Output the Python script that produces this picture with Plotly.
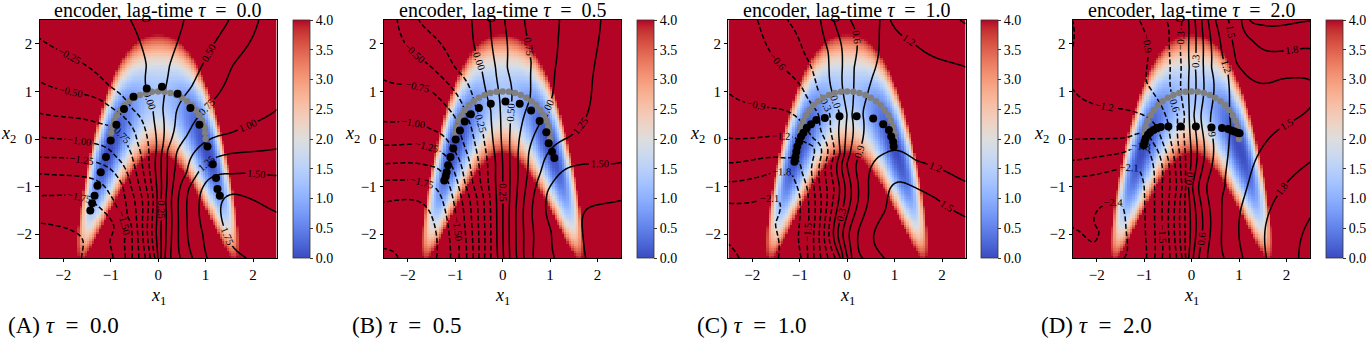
import numpy as np
import plotly.graph_objects as go

W, H = 1367, 338
SERIF = "Liberation Serif"

# ---------------- data ----------------
PANEL_TITLES = ["encoder, lag-time <i>τ</i>\u2002=\u20020.0", "encoder, lag-time <i>τ</i>\u2002=\u20020.5",
                "encoder, lag-time <i>τ</i>\u2002=\u20021.0", "encoder, lag-time <i>τ</i>\u2002=\u20022.0"]
CAPTIONS = ["(A) <i>τ</i>\u2002=\u20020.0", "(B) <i>τ</i>\u2002=\u20020.5",
            "(C) <i>τ</i>\u2002=\u20021.0", "(D) <i>τ</i>\u2002=\u20022.0"]
AXIS_TICKS = [-2, -1, 0, 1, 2]
AXIS_TICK_TEXT = ["−2", "−1", "0", "1", "2"]
CBAR_TICKS = [0.0, 0.5, 1.0, 1.5, 2.0, 2.5, 3.0, 3.5, 4.0]

# potential parameters (banana shaped landscape)
POT_C0, POT_B, POT_A0, POT_K, POT_H, POT_M2 = 0.95, 1.1, 1.75, 0.3, 1.3, 1.05

# grey reference points (arc)
GREY_X = [1.000, 0.991, 0.966, 0.924, 0.866, 0.793, 0.707, 0.609, 0.500, 0.383, 0.259, 0.131, 0.000,
          -0.131, -0.259, -0.383, -0.500, -0.609, -0.707, -0.793, -0.866, -0.924, -0.966, -0.991, -1.000]
GREY_Y = [0.000, 0.131, 0.259, 0.383, 0.500, 0.609, 0.707, 0.793, 0.866, 0.924, 0.966, 0.991, 1.000,
          0.991, 0.966, 0.924, 0.866, 0.793, 0.707, 0.609, 0.500, 0.383, 0.259, 0.131, 0.000]

# black (encoded/decoded) points per panel
A_BLACK_X = [-1.43, -1.39, -1.34, -1.28, -1.21, -1.10, -1.00, -0.88, -0.72, -0.52, -0.24, 0.08, 0.41, 0.68, 0.87, 1.04, 1.15, 1.22, 1.25, 1.30]
A_BLACK_Y = [-1.50, -1.35, -1.19, -0.98, -0.70, -0.38, -0.03, 0.30, 0.63, 0.89, 1.06, 1.10, 0.95, 0.65, 0.30, -0.16, -0.53, -0.82, -1.05, -1.19]
B_BLACK_X = [-1.23, -1.20, -1.18, -1.15, -1.10, -1.04, -0.99, -0.90, -0.80, -0.67, -0.50, -0.25, 0.06, 0.36, 0.60, 0.78, 0.92, 0.97, 1.04, 1.09]
B_BLACK_Y = [-0.87, -0.79, -0.70, -0.55, -0.38, -0.20, -0.01, 0.18, 0.37, 0.52, 0.65, 0.74, 0.79, 0.74, 0.60, 0.38, 0.14, -0.09, -0.27, -0.40]
C_BLACK_X = [-1.11, -1.09, -1.07, -1.05, -1.01, -0.97, -0.92, -0.85, -0.76, -0.65, -0.47, -0.16, 0.20, 0.55, 0.76, 0.88, 0.93, 0.97, 0.98]
C_BLACK_Y = [-0.48, -0.38, -0.27, -0.16, -0.06, 0.05, 0.13, 0.23, 0.31, 0.40, 0.44, 0.48, 0.48, 0.43, 0.31, 0.19, 0.05, -0.06, -0.16]
D_BLACK_X = [-1.01, -0.99, -0.97, -0.92, -0.87, -0.80, -0.73, -0.65, -0.49, -0.23, 0.09, 0.42, 0.64, 0.77, 0.84, 0.90, 0.97, 1.01]
D_BLACK_Y = [-0.13, -0.06, 0.01, 0.09, 0.14, 0.19, 0.23, 0.25, 0.26, 0.26, 0.26, 0.24, 0.23, 0.21, 0.18, 0.16, 0.13, 0.12]

# encoder contour lines: level, x1 points, x2 points
A_LEVELS = [-2.00, -1.75, -1.50, -1.25, -1.00, -0.75, -0.50, -0.25, 0.00, 0.25, 0.50, 0.75, 1.00, 1.25, 1.50, 1.75]
A_LINES_X = [[-2.53, -1.79, -1.58, -1.62],
             [-2.53, -1.58, -1.09, -1.02, -0.95],
             [-2.53, -1.37, -1.02, -0.71, -0.69],
             [-2.53, -1.51, -1.02, -0.74, -0.64, -0.55],
             [-2.53, -1.37, -0.88, -0.57, -0.46, -0.41],
             [-2.53, -1.23, -0.74, -0.57, -0.39, -0.27],
             [-2.53, -2.03, -1.23, -0.74, -0.43, -0.25, -0.17],
             [-2.53, -1.51, -1.02, -0.53, -0.22, -0.10, -0.06],
             [-0.60, -0.25, -0.11, -0.04, -0.04, -0.01],
             [0.55, 0.24, 0.10, 0.10, 0.06, 0.06],
             [1.50, 1.00, 0.69, 0.38, 0.20, 0.15],
             [2.13, 1.57, 1.04, 0.59, 0.34, 0.27],
             [2.53, 1.50, 0.87, 0.59, 0.48],
             [2.53, 1.57, 1.00, 0.66, 0.62, 0.73],
             [2.53, 1.57, 1.04, 0.87, 0.94, 1.04],
             [2.53, 1.57, 1.32, 1.50, 1.88]]
A_LINES_Y = [[-1.76, -1.94, -2.15, -2.52],
             [-1.19, -1.23, -1.58, -2.15, -2.52],
             [-0.73, -0.84, -1.16, -1.72, -2.52],
             [-0.38, -0.45, -0.62, -1.01, -1.65, -2.52],
             [0.05, -0.09, -0.38, -1.01, -1.58, -2.52],
             [0.55, 0.33, 0.09, -0.30, -1.01, -2.52],
             [1.22, 1.03, 0.83, 0.48, -0.09, -1.01, -2.52],
             [2.14, 1.54, 1.11, 0.62, -0.02, -1.30, -2.52],
             [2.53, 1.54, 0.62, -0.23, -1.94, -2.52],
             [2.53, 1.54, 0.62, -0.16, -1.30, -2.52],
             [2.53, 1.68, 1.08, 0.55, -0.23, -2.52],
             [2.53, 1.54, 0.69, 0.05, -0.73, -2.52],
             [0.65, 0.12, -0.16, -0.73, -2.52],
             [-0.20, -0.30, -0.52, -1.01, -2.00, -2.52],
             [-0.77, -0.73, -0.87, -1.30, -2.00, -2.52],
             [-1.55, -1.16, -1.44, -2.15, -2.52]]

B_LEVELS = [-2.25, -2.00, -1.75, -1.50, -1.25, -1.00, -0.75, -0.50, -0.25, 0.00, 0.25, 0.50, 0.75, 1.00, 1.25, 1.50]
B_LINES_X = [[-2.53, -2.20],
             [-2.53, -1.80, -1.46, -1.40],
             [-2.53, -1.70, -1.30, -1.15, -1.10],
             [-2.53, -1.60, -1.20, -1.00, -0.92],
             [-2.53, -1.67, -1.20, -0.95, -0.80, -0.76],
             [-2.53, -1.50, -1.05, -0.80, -0.65, -0.62],
             [-2.53, -1.50, -1.00, -0.75, -0.55, -0.50],
             [-2.23, -1.57, -0.94, -0.65, -0.45, -0.38],
             [-1.78, -1.00, -0.55, -0.32, -0.25],
             [-0.66, -0.45, -0.25, -0.15, -0.12, -0.10],
             [-0.27, -0.15, -0.05, 0.00, 0.02],
             [0.04, 0.10, 0.17, 0.15, 0.15],
             [0.46, 0.60, 0.57, 0.35, 0.30, 0.30],
             [1.20, 1.10, 0.88, 0.55, 0.45, 0.45],
             [2.07, 1.90, 1.41, 0.80, 0.62, 0.65],
             [2.53, 1.30, 0.95, 1.02, 1.10]]
B_LINES_Y = [[-2.29, -2.52],
             [-1.33, -1.30, -1.72, -2.52],
             [-0.87, -0.90, -1.20, -1.80, -2.52],
             [-0.52, -0.55, -0.80, -1.50, -2.52],
             [-0.13, -0.13, -0.35, -0.90, -1.80, -2.52],
             [0.37, 0.20, -0.20, -0.90, -1.80, -2.52],
             [1.26, 1.00, 0.45, -0.30, -1.20, -2.52],
             [2.53, 1.57, 0.90, 0.20, -1.00, -2.52],
             [2.53, 1.50, 0.60, -0.50, -2.52],
             [2.53, 1.50, 0.60, -0.50, -2.15, -2.52],
             [2.53, 1.50, 0.60, -0.50, -2.52],
             [2.53, 1.50, 0.60, -0.50, -2.52],
             [2.53, 1.60, 0.83, 0.00, -1.20, -2.52],
             [2.53, 1.40, 0.51, -0.30, -1.30, -2.52],
             [2.53, 1.30, 0.05, -0.70, -1.60, -2.52],
             [-0.48, -0.65, -1.10, -1.94, -2.52]]

C_LEVELS = [-2.1, -1.8, -1.5, -1.2, -0.9, -0.6, -0.3, 0.0, 0.3, 0.6, 0.9, 1.2, 1.5, 1.2, 1.5]
C_LINES_X = [[-2.53, -1.70, -1.51, -1.45],
             [-2.53, -1.76, -1.20, -1.00, -0.97],
             [-2.53, -1.30, -0.95, -0.81, -0.83],
             [-2.53, -1.20, -0.71, -0.70, -0.70],
             [-2.53, -1.58, -1.00, -0.70, -0.58, -0.55],
             [-1.90, -1.35, -0.95, -0.60, -0.45, -0.40],
             [-1.27, -0.90, -0.60, -0.35, -0.28, -0.25],
             [-0.57, -0.40, -0.25, -0.15, -0.12],
             [-0.29, -0.10, 0.00, -0.05, -0.05],
             [0.06, 0.15, 0.10, 0.00, -0.09, -0.08],
             [0.69, 0.60, 0.35, 0.20, 0.10],
             [2.53, 1.46, 0.80, 0.45, 0.35],
             [2.53, 1.84, 1.10, 0.80, 0.80],
             [0.90, 1.32, 2.53],
             [2.33, 2.53]]
C_LINES_Y = [[-1.35, -1.25, -1.79, -2.52],
             [-0.90, -0.77, -0.70, -1.20, -2.52],
             [-0.50, -0.40, -0.70, -1.72, -2.52],
             [0.03, 0.05, -0.16, -1.00, -2.52],
             [1.00, 0.65, 0.40, 0.00, -1.00, -2.52],
             [2.53, 1.50, 1.08, 0.50, -0.50, -2.52],
             [2.53, 1.80, 1.00, 0.20, -1.00, -2.52],
             [2.53, 1.82, 0.80, -0.30, -2.52],
             [2.53, 1.50, 0.50, -0.20, -2.52],
             [2.53, 1.50, 0.50, -0.50, -2.00, -2.52],
             [2.53, 1.50, 0.40, -0.50, -2.52],
             [-0.90, -0.45, -0.30, -0.90, -2.52],
             [-1.65, -1.23, -0.90, -1.50, -2.52],
             [2.53, 2.07, 1.50],
             [2.53, 2.40]]

D_LEVELS = [-2.4, -2.1, -1.8, -1.5, -1.2, -0.9, -0.6, -0.3, 0.0, 0.3, 0.6, 0.9, 1.2, 1.5, 1.8, 2.1]
D_LINES_X = [[-2.53, -1.95, -1.90],
             [-2.53, -1.40, -1.00, -0.98, -0.95],
             [-2.53, -1.40, -0.95, -0.78, -0.78],
             [-2.53, -2.25, -1.30, -0.80, -0.62, -0.62],
             [-2.53, -1.40, -0.77, -0.48, -0.46],
             [-1.12, -0.94, -0.55, -0.32, -0.32],
             [-0.55, -0.45, -0.30, -0.20, -0.20],
             [-0.21, -0.22, -0.15, -0.12, -0.12],
             [-0.07, -0.05, -0.05, -0.07, -0.07],
             [0.07, 0.08, 0.05, 0.02, 0.04],
             [0.21, 0.25, 0.20, 0.15, 0.16],
             [0.35, 0.42, 0.40, 0.32, 0.34],
             [0.50, 0.75, 0.82, 0.70, 0.69],
             [0.77, 0.95, 1.20, 1.89, 2.53],
             [1.05, 1.30, 1.60, 2.03, 2.53],
             [1.20, 1.45, 1.92, 2.53]]
D_LINES_Y = [[-1.85, -1.95, -2.52],
             [-0.80, -0.60, -1.00, -1.58, -2.52],
             [-0.45, -0.27, -0.15, -1.00, -2.52],
             [0.00, 0.00, 0.05, -0.10, -1.00, -2.52],
             [1.10, 0.62, 0.30, -0.50, -2.52],
             [2.53, 1.18, 0.50, -1.00, -2.52],
             [2.53, 1.47, 0.50, -1.00, -2.52],
             [2.53, 1.50, 0.50, -1.00, -2.52],
             [2.53, 1.50, 0.50, -1.00, -2.52],
             [2.53, 1.50, 0.50, -1.00, -2.52],
             [2.53, 1.50, 0.50, -1.00, -2.52],
             [2.53, 1.50, 0.30, -1.00, -2.52],
             [2.53, 1.50, 0.30, -1.00, -2.52],
             [2.53, 1.60, 1.30, 1.26, 1.22],
             [2.53, 2.05, 1.85, 1.86, 1.90],
             [2.53, 2.40, 2.39, 2.48]]

PANELS = [
    dict(levels=A_LEVELS, lx=A_LINES_X, ly=A_LINES_Y, bx=A_BLACK_X, by=A_BLACK_Y, step=0.25, fmt=".2f"),
    dict(levels=B_LEVELS, lx=B_LINES_X, ly=B_LINES_Y, bx=B_BLACK_X, by=B_BLACK_Y, step=0.25, fmt=".2f"),
    dict(levels=C_LEVELS, lx=C_LINES_X, ly=C_LINES_Y, bx=C_BLACK_X, by=C_BLACK_Y, step=0.3, fmt=".1f"),
    dict(levels=D_LEVELS, lx=D_LINES_X, ly=D_LINES_Y, bx=D_BLACK_X, by=D_BLACK_Y, step=0.3, fmt=".1f"),
]

COOLWARM = [
    (0.0, (59, 76, 192)), (0.03125, (68, 90, 204)), (0.0625, (77, 104, 215)), (0.09375, (87, 117, 225)),
    (0.125, (98, 130, 234)), (0.15625, (108, 142, 241)), (0.1875, (119, 154, 247)), (0.21875, (130, 165, 251)),
    (0.25, (141, 176, 254)), (0.28125, (152, 185, 255)), (0.3125, (163, 194, 255)), (0.34375, (174, 201, 253)),
    (0.375, (184, 208, 249)), (0.40625, (194, 213, 244)), (0.4375, (204, 217, 238)), (0.46875, (213, 219, 230)),
    (0.5, (221, 221, 221)), (0.53125, (229, 216, 209)), (0.5625, (236, 211, 197)), (0.59375, (241, 204, 185)),
    (0.625, (245, 196, 173)), (0.65625, (247, 187, 160)), (0.6875, (247, 177, 148)), (0.71875, (247, 166, 135)),
    (0.75, (244, 154, 123)), (0.78125, (241, 141, 111)), (0.8125, (236, 127, 99)), (0.84375, (229, 112, 88)),
    (0.875, (222, 96, 77)), (0.90625, (213, 80, 66)), (0.9375, (203, 62, 56)), (0.96875, (192, 40, 47)),
    (1.0, (180, 4, 38))]
COOLWARM_SCALE = [[s, "rgb(%d,%d,%d)" % c] for s, c in COOLWARM]

# ---------------- geometry (pixels) ----------------
PANEL_LEFT = [39.7, 385.7, 731.7, 1077.7]
PLOT_W = 238.3
TOP_PX, BOTTOM_PX = 20.0, 258.0
CBAR_LEFT = [294.0, 640.0, 985.7, 1331.7]


def potential(x1, x2):
    a = POT_A0 * (1.0 + POT_K * x1 ** 2)
    return a * (x2 - POT_C0 + POT_B * x1 ** 2) ** 2 + POT_H * (1.0 - x1 ** 2 / POT_M2) ** 2


def tps_field(px, py, pv, gx, gy, lam=2e-3):
    P = np.column_stack([px, py])
    n = len(px)
    d = np.sqrt(((P[:, None, :] - P[None, :, :]) ** 2).sum(-1))
    K = np.where(d > 0, d ** 2 * np.log(np.where(d > 0, d, 1.0)), 0.0)
    K = K + lam * np.eye(n)
    Q = np.column_stack([np.ones(n), px, py])
    A = np.block([[K, Q], [Q.T, np.zeros((3, 3))]])
    b = np.concatenate([pv, np.zeros(3)])
    sol = np.linalg.lstsq(A, b, rcond=None)[0]
    w, c = sol[:n], sol[n:]
    GX, GY = np.meshgrid(gx, gy)
    G = np.column_stack([GX.ravel(), GY.ravel()])
    dg = np.sqrt(((G[:, None, :] - P[None, :, :]) ** 2).sum(-1))
    Kg = np.where(dg > 0, dg ** 2 * np.log(np.where(dg > 0, dg, 1.0)), 0.0)
    f = Kg @ w + c[0] + c[1] * G[:, 0] + c[2] * G[:, 1]
    return f.reshape(GX.shape)


HX = np.linspace(-2.475, 2.475, 100)
HY = np.linspace(-2.475, 2.475, 100)
HXX, HYY = np.meshgrid(HX, HY)
VFIELD = potential(HXX, HYY)

CX = np.linspace(-2.5, 2.5, 161)
CY = np.linspace(-2.5, 2.5, 161)

fig = go.Figure()
ydom = [(H - BOTTOM_PX) / H, (H - TOP_PX) / H]
ymid = (ydom[0] + ydom[1]) / 2
LABEL_FONT = dict(family=SERIF, size=10.5, color="black")

for i, p in enumerate(PANELS):
    xa = "x" if i == 0 else "x%d" % (i + 1)
    ya = "y" if i == 0 else "y%d" % (i + 1)
    fig.add_trace(go.Heatmap(
        x=HX, y=HY, z=VFIELD, colorscale=COOLWARM_SCALE, zmin=0, zmax=4, zsmooth=False,
        xaxis=xa, yaxis=ya, hoverinfo="skip",
        colorbar=dict(x=CBAR_LEFT[i] / W, xanchor="left", xpad=0, ypad=0, y=ymid, yanchor="middle",
                      len=BOTTOM_PX - TOP_PX, lenmode="pixels", thickness=16.7, thicknessmode="pixels",
                      outlinewidth=0.8, outlinecolor="#333", tickvals=CBAR_TICKS,
                      ticktext=["%.1f" % t for t in CBAR_TICKS], ticks="outside", ticklen=3,
                      tickwidth=0.8, tickcolor="#333",
                      tickfont=dict(family=SERIF, size=14, color="black"))))
    px, py, pv = [], [], []
    for lev, xs, ys in zip(p["levels"], p["lx"], p["ly"]):
        px += xs
        py += ys
        pv += [lev] * len(xs)
    F = tps_field(np.array(px), np.array(py), np.array(pv), CX, CY)
    st = p["step"]
    lo = st * np.floor(F.min() / st)
    hi = st * np.ceil(F.max() / st)
    common = dict(x=CX, y=CY, z=F, showscale=False, hoverinfo="skip", xaxis=xa, yaxis=ya)
    if lo < 0:
        fig.add_trace(go.Contour(**common,
                                 contours=dict(coloring="none", start=lo, end=-st * 0.5, size=st,
                                               showlabels=True, labelformat=p["fmt"], labelfont=LABEL_FONT),
                                 line=dict(color="black", width=1.5, dash="5px,2.5px")))
    fig.add_trace(go.Contour(**common,
                             contours=dict(coloring="none", start=0.0, end=max(hi, 0.0), size=st,
                                           showlabels=True, labelformat=p["fmt"], labelfont=LABEL_FONT),
                             line=dict(color="black", width=1.5)))
    fig.add_trace(go.Scatter(x=GREY_X, y=GREY_Y, mode="markers", xaxis=xa, yaxis=ya, hoverinfo="skip",
                             marker=dict(size=6.5, color="#808080", line=dict(width=0))))
    fig.add_trace(go.Scatter(x=p["bx"], y=p["by"], mode="markers", xaxis=xa, yaxis=ya, hoverinfo="skip",
                             marker=dict(size=8, color="black", line=dict(width=0))))

    x0 = PANEL_LEFT[i] / W
    x1 = (PANEL_LEFT[i] + PLOT_W) / W
    axcommon = dict(range=[-2.5, 2.5], tickvals=AXIS_TICKS, ticktext=AXIS_TICK_TEXT,
                    ticks="outside", ticklen=3.5, tickwidth=0.8, tickcolor="black",
                    showline=True, mirror=True, linecolor="black", linewidth=0.8,
                    showgrid=False, zeroline=False,
                    tickfont=dict(family=SERIF, size=15, color="black"))
    fig.layout["xaxis" if i == 0 else "xaxis%d" % (i + 1)] = dict(domain=[x0, x1], anchor=ya, **axcommon)
    fig.layout["yaxis" if i == 0 else "yaxis%d" % (i + 1)] = dict(domain=ydom, anchor=xa, **axcommon)

    cx = PANEL_LEFT[i] + PLOT_W / 2
    fig.add_annotation(x=cx / W, y=1 - 10 / H, xref="paper", yref="paper", showarrow=False,
                       text=PANEL_TITLES[i], font=dict(family=SERIF, size=20, color="black"),
                       xanchor="center", yanchor="middle")
    fig.add_annotation(x=cx / W, y=1 - 296 / H, xref="paper", yref="paper", showarrow=False,
                       text="<i>x</i><sub>1</sub>", font=dict(family=SERIF, size=18, color="black"),
                       xanchor="center", yanchor="middle")
    fig.add_annotation(x=(PANEL_LEFT[i] - 31.5) / W, y=1 - 134 / H, xref="paper", yref="paper",
                       showarrow=False, text="<i>x</i><sub>2</sub>",
                       font=dict(family=SERIF, size=18, color="black"), xanchor="center", yanchor="middle")
    fig.add_annotation(x=(6 + 346 * i) / W, y=1 - 325 / H, xref="paper", yref="paper", showarrow=False,
                       text=CAPTIONS[i], font=dict(family=SERIF, size=23, color="black"),
                       xanchor="left", yanchor="middle")

fig.update_layout(width=W, height=H, margin=dict(l=0, r=0, t=0, b=0), showlegend=False,
                  paper_bgcolor="white", plot_bgcolor="white")
fig.write_html("out.html")
